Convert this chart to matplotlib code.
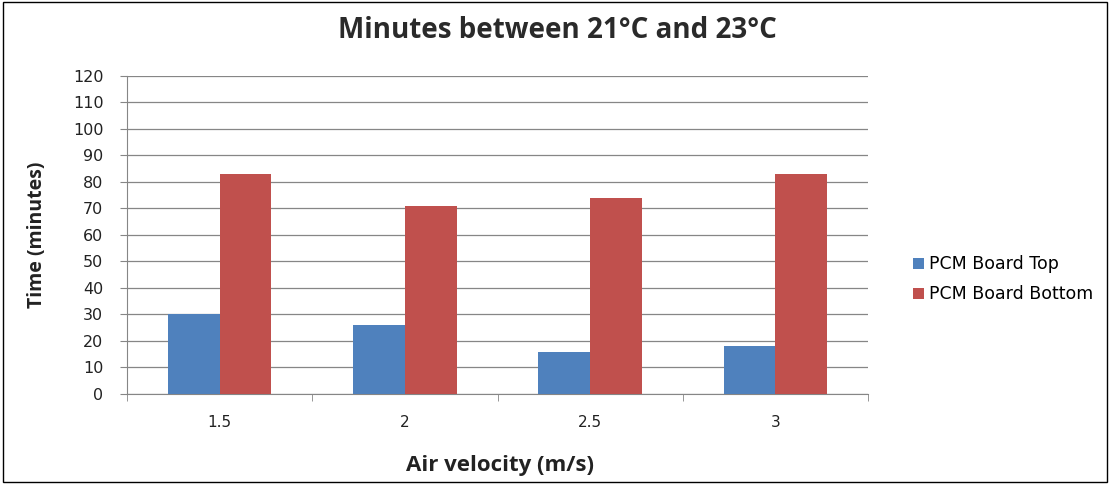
import numpy as np
import matplotlib.pyplot as plt
from matplotlib.patches import Rectangle

categories = ['1.5', '2', '2.5', '3']
top_vals = [30, 26, 16, 18]
bottom_vals = [83, 71, 74, 83]
series_names = ['PCM Board Top', 'PCM Board Bottom']

blue = '#4F81BD'
red = '#C0504D'

fig = plt.figure(figsize=(11.11, 4.84), dpi=100)
ax = fig.add_axes([0.1143, 0.186, 0.667, 0.657])

x = np.arange(len(categories))
w = 0.28
ax.bar(x - w / 2, top_vals, w, color=blue, label=series_names[0], zorder=3)
ax.bar(x + w / 2, bottom_vals, w, color=red, label=series_names[1], zorder=3)

ax.set_xlim(-0.5, len(categories) - 0.5)
ax.set_ylim(0, 120)
ax.set_yticks(range(0, 121, 10))
ax.set_xticks(x)
ax.set_xticklabels(categories)
ax.set_xticks(np.arange(-0.5, len(categories), 1), minor=True)
ax.tick_params(axis='x', which='major', length=0, pad=15, labelsize=11, labelcolor='#222222')
ax.tick_params(axis='x', which='minor', length=5, color='#868686', direction='out')
ax.tick_params(axis='y', length=5, color='#868686', labelsize=11.5, pad=12, labelcolor='#222222')

ax.grid(axis='y', color='#868686', linewidth=0.9, zorder=0)
for s in ['top', 'right']:
    ax.spines[s].set_visible(False)
for s in ['left', 'bottom']:
    ax.spines[s].set_color('#868686')

ax.set_ylabel('Time (minutes)', fontsize=14, fontweight='bold', family='Open Sans',
              color='#222222', va='center')
ax.yaxis.set_label_coords(-0.121, 0.5)
ax.set_xlabel('Air velocity (m/s)', fontsize=16, fontweight='bold', family='Open Sans',
              color='#222222', va='center')
ax.xaxis.set_label_coords(0.503, -0.225)
fig.text(0.502, 0.936, 'Minutes between 21°C and 23°C', fontsize=20, fontweight='bold',
         family='Open Sans', color='#2a2a2a', ha='center', va='center')

fig.legend(loc='upper left', bbox_to_anchor=(0.808, 0.505), frameon=False,
           fontsize=12.5, handlelength=0.6, handleheight=0.6, handletextpad=0.3,
           labelspacing=0.7)

fig.patches.append(Rectangle((0.003, 0.004), 0.993, 0.992, transform=fig.transFigure,
                             fill=False, edgecolor='black', linewidth=1))

fig.savefig('out.png', dpi=100)
